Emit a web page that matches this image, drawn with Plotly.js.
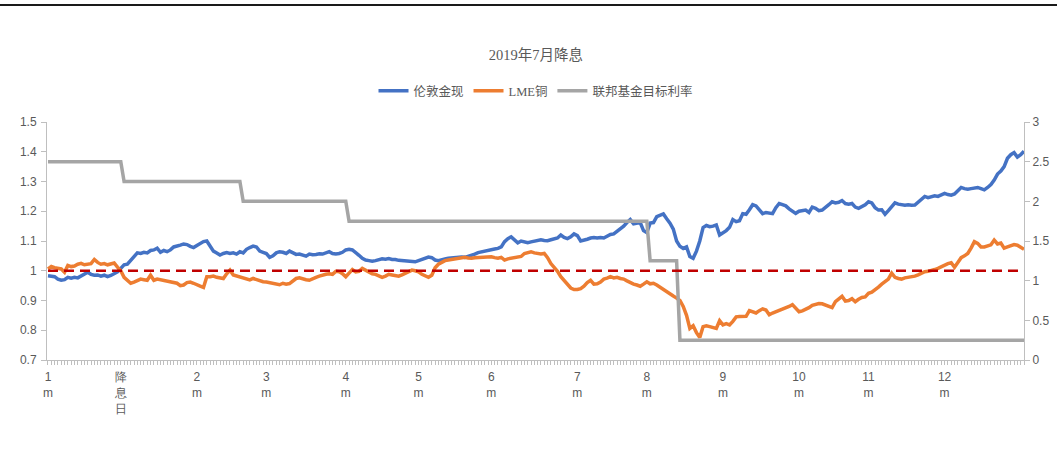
<!DOCTYPE html>
<html>
<head>
<meta charset="utf-8">
<script src="https://cdn.plot.ly/plotly-3.0.1.min.js"></script>
<style>
  html, body { margin: 0; padding: 0; background: #fff; }
  #chart { width: 1057px; height: 452px; }
</style>
</head>
<body>
<div id="chart"></div>
<script>
// Trading-day index from one month before the July 2019 cut to twelve months after it
const monthTickIndex = [0, 22, 45, 66, 90, 112, 134, 160, 181, 204, 227, 248, 271];
const monthTickText = ['1<br>m', '降<br>息<br>日', '2<br>m', '3<br>m', '4<br>m', '5<br>m', '6<br>m',
                       '7<br>m', '8<br>m', '9<br>m', '10<br>m', '11<br>m', '12<br>m'];

// London spot gold, normalised (left axis)
const goldSpot = [
  0.983,0.982,0.980,0.972,0.968,0.970,0.978,0.975,0.978,0.976,
  0.982,0.990,0.995,0.988,0.985,0.986,0.982,0.985,0.980,0.984,
  0.990,0.996,1.008,1.020,1.022,1.035,1.045,1.060,1.058,1.062,
  1.060,1.068,1.070,1.076,1.062,1.068,1.064,1.070,1.080,1.082,
  1.086,1.090,1.088,1.082,1.078,1.085,1.092,1.098,1.100,1.085,
  1.066,1.060,1.053,1.058,1.061,1.058,1.060,1.056,1.064,1.060,
  1.072,1.078,1.083,1.080,1.066,1.062,1.058,1.045,1.050,1.060,
  1.064,1.062,1.058,1.066,1.060,1.055,1.056,1.054,1.049,1.056,
  1.054,1.055,1.057,1.056,1.060,1.064,1.058,1.056,1.058,1.062,
  1.070,1.072,1.070,1.062,1.052,1.042,1.036,1.034,1.032,1.034,
  1.038,1.040,1.039,1.041,1.038,1.038,1.035,1.034,1.032,1.030,
  1.031,1.030,1.034,1.038,1.042,1.046,1.044,1.036,1.034,1.038,
  1.040,1.042,1.043,1.046,1.047,1.046,1.045,1.048,1.050,1.056,
  1.061,1.064,1.066,1.068,1.072,1.073,1.075,1.080,1.098,1.108,
  1.114,1.102,1.094,1.100,1.098,1.094,1.097,1.100,1.102,1.104,
  1.102,1.101,1.104,1.106,1.110,1.120,1.112,1.108,1.114,1.124,
  1.118,1.100,1.102,1.106,1.110,1.112,1.110,1.112,1.110,1.116,
  1.122,1.124,1.132,1.140,1.150,1.162,1.172,1.158,1.160,1.162,
  1.135,1.128,1.160,1.162,1.182,1.188,1.191,1.175,1.160,1.140,
  1.100,1.082,1.075,1.080,1.048,1.042,1.066,1.100,1.145,1.152,
  1.148,1.150,1.154,1.120,1.126,1.135,1.146,1.172,1.165,1.168,
  1.192,1.190,1.205,1.222,1.218,1.205,1.192,1.196,1.195,1.192,
  1.212,1.226,1.222,1.218,1.208,1.202,1.193,1.200,1.203,1.204,
  1.196,1.214,1.210,1.202,1.204,1.212,1.222,1.232,1.228,1.230,
  1.236,1.226,1.224,1.226,1.214,1.210,1.215,1.222,1.232,1.228,
  1.212,1.204,1.205,1.190,1.202,1.214,1.228,1.224,1.222,1.220,
  1.222,1.220,1.221,1.230,1.238,1.250,1.246,1.248,1.252,1.250,
  1.256,1.260,1.256,1.254,1.258,1.270,1.280,1.276,1.274,1.276,
  1.278,1.280,1.276,1.272,1.280,1.290,1.305,1.325,1.335,1.350,
  1.378,1.390,1.397,1.382,1.390,1.402
];

// LME copper, normalised (left axis)
const lmeCopper = [
  1.006,1.014,1.010,1.008,1.006,0.995,1.018,1.014,1.016,1.022,
  1.025,1.020,1.022,1.024,1.038,1.028,1.022,1.024,1.020,1.024,
  1.026,1.012,1.000,0.978,0.966,0.958,0.962,0.966,0.972,0.970,
  0.968,0.985,0.968,0.972,0.970,0.968,0.965,0.963,0.960,0.958,
  0.950,0.952,0.960,0.962,0.958,0.952,0.948,0.944,0.980,0.980,
  0.982,0.978,0.976,0.974,0.990,1.002,0.986,0.982,0.978,0.976,
  0.972,0.969,0.974,0.970,0.966,0.963,0.962,0.960,0.957,0.955,
  0.953,0.958,0.955,0.957,0.966,0.974,0.976,0.972,0.970,0.968,
  0.974,0.978,0.982,0.986,0.988,0.990,0.988,0.998,0.997,0.990,
  0.980,0.992,1.004,0.996,0.998,1.008,1.002,0.993,0.990,0.988,
  0.982,0.978,0.982,0.988,0.986,0.984,0.982,0.986,0.992,0.996,
  1.002,1.000,0.996,0.988,0.982,0.978,0.985,1.010,1.022,1.028,
  1.034,1.036,1.038,1.040,1.040,1.042,1.045,1.043,1.042,1.044,
  1.045,1.046,1.047,1.046,1.047,1.044,1.042,1.045,1.036,1.040,
  1.042,1.044,1.045,1.048,1.058,1.062,1.064,1.060,1.058,1.056,
  1.058,1.044,1.024,1.012,0.998,0.980,0.968,0.955,0.942,0.937,
  0.937,0.940,0.948,0.960,0.968,0.955,0.956,0.962,0.972,0.975,
  0.980,0.976,0.978,0.974,0.972,0.966,0.960,0.955,0.952,0.948,
  0.955,0.963,0.956,0.958,0.952,0.944,0.938,0.930,0.922,0.915,
  0.908,0.900,0.880,0.850,0.806,0.815,0.792,0.776,0.812,0.815,
  0.812,0.810,0.806,0.832,0.818,0.822,0.818,0.830,0.845,0.846,
  0.846,0.847,0.866,0.862,0.858,0.866,0.872,0.868,0.852,0.858,
  0.862,0.868,0.872,0.876,0.880,0.886,0.872,0.862,0.865,0.870,
  0.876,0.884,0.888,0.890,0.889,0.884,0.880,0.876,0.896,0.905,
  0.914,0.898,0.900,0.906,0.896,0.904,0.910,0.912,0.924,0.928,
  0.935,0.945,0.955,0.962,0.972,0.992,0.978,0.974,0.972,0.976,
  0.978,0.979,0.982,0.986,0.992,0.997,0.998,1.000,1.004,1.008,
  1.014,1.019,1.024,1.027,1.012,1.028,1.044,1.050,1.058,1.076,
  1.098,1.092,1.080,1.080,1.083,1.087,1.103,1.090,1.093,1.076,
  1.080,1.085,1.088,1.086,1.080,1.072
];

// Federal funds target rate (%), right axis: level and the day index each level starts
const fedRateLevels = [2.5, 2.25, 2.0, 1.75, 1.25, 0.25];
const fedRateStarts = [0, 23, 59, 91, 182, 191];

const baseline = 1;

const n = goldSpot.length;
const dayIndex = Array.from({length: n}, (_, i) => i);
const fedRate = dayIndex.map(i => {
  let v = fedRateLevels[0];
  fedRateStarts.forEach((s, k) => { if (i >= s) v = fedRateLevels[k]; });
  return v;
});

const axisGrey = '#bfbfbf';
const textGrey = '#595959';
const sansFont = 'Liberation Sans, Arial, sans-serif';
const serifFont = 'Liberation Serif, Noto Sans CJK SC, serif';

const traces = [
  { x: dayIndex, y: goldSpot, name: '伦敦金现', type: 'scatter', mode: 'lines',
    line: { color: '#4472C4', width: 3.5 }, yaxis: 'y' },
  { x: dayIndex, y: lmeCopper, name: 'LME铜', type: 'scatter', mode: 'lines',
    line: { color: '#ED7D31', width: 3.5 }, yaxis: 'y' },
  { x: dayIndex, y: fedRate, name: '联邦基金目标利率', type: 'scatter', mode: 'lines',
    line: { color: '#A5A5A5', width: 3.5 }, yaxis: 'y2' }
];

const layout = {
  width: 1057, height: 452,
  margin: { l: 47, r: 33, t: 122, b: 92 },
  paper_bgcolor: '#fff', plot_bgcolor: '#fff',
  showlegend: true,
  title: {
    text: '2019年7月降息',
    font: { family: serifFont, size: 14.5, color: textGrey },
    x: 0.507, xanchor: 'center', y: 0.878, yanchor: 'middle'
  },
  legend: {
    orientation: 'h', x: 0.5, xanchor: 'center', y: 1.13, yanchor: 'middle',
    font: { family: serifFont, size: 12.5, color: textGrey },
    itemwidth: 30, tracegroupgap: 0
  },
  xaxis: {
    range: [-0.3, n - 1],
    tickmode: 'array', tickvals: monthTickIndex, ticktext: monthTickText,
    tickfont: { family: sansFont, size: 12, color: textGrey },
    ticks: 'outside', ticklen: 4, tickcolor: axisGrey, tickwidth: 1,
    ticklabelstandoff: 2,
    minor: { tickmode: 'linear', tick0: 0, dtick: 1, ticks: 'outside', ticklen: 4,
             tickcolor: axisGrey, tickwidth: 1, showgrid: false },
    showline: true, linecolor: axisGrey, linewidth: 1,
    showgrid: false, zeroline: false, fixedrange: true
  },
  yaxis: {
    range: [0.7, 1.5], dtick: 0.1, tick0: 0.7,
    tickfont: { family: sansFont, size: 12, color: textGrey },
    ticks: 'outside', ticklen: 5, tickcolor: axisGrey,
    ticklabelstandoff: 2,
    showline: true, linecolor: axisGrey, linewidth: 1,
    showgrid: false, zeroline: false
  },
  yaxis2: {
    range: [0, 3], dtick: 0.5, tick0: 0,
    overlaying: 'y', side: 'right',
    tickfont: { family: sansFont, size: 12, color: textGrey },
    ticks: 'outside', ticklen: 5, tickcolor: axisGrey,
    showline: true, linecolor: axisGrey, linewidth: 1,
    showgrid: false, zeroline: false
  },
  shapes: [
    // reference level at 1
    { type: 'line', xref: 'x', yref: 'y', x0: 0, x1: n - 1, y0: baseline, y1: baseline,
      line: { color: '#C00000', width: 2.5, dash: '10px,6px' } },
    // page rule across the top
    { type: 'line', xref: 'paper', yref: 'paper', x0: -47 / 977, x1: 1010 / 977,
      y0: 355 / 238, y1: 355 / 238, line: { color: '#1a1a1a', width: 2 } }
  ]
};

Plotly.newPlot('chart', traces, layout, { displayModeBar: false, staticPlot: true });
</script>
</body>
</html>
